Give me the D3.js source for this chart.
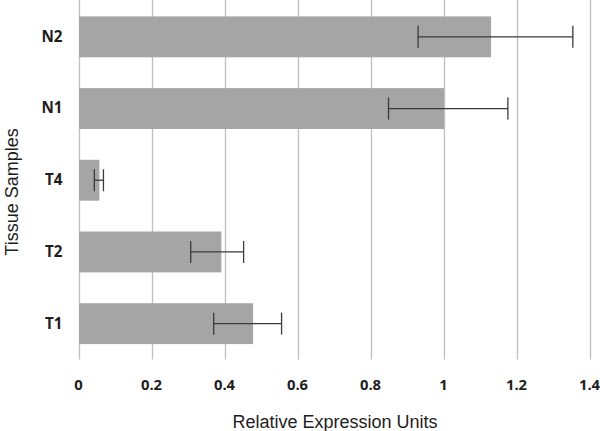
<!DOCTYPE html>
<html>
<head>
<meta charset="utf-8">
<script src="https://cdn.jsdelivr.net/npm/d3@7"></script>
<style>
html,body{margin:0;padding:0;background:#fff;}
svg{display:block;}
</style>
</head>
<body>
<script>
// Data (top to bottom)
const categories = ["N2", "N1", "T4", "T2", "T1"];
const values = [1.129, 1.0, 0.056, 0.39, 0.477];
const errLow = [0.929, 0.848, 0.042, 0.306, 0.369];
const errHigh = [1.353, 1.175, 0.067, 0.451, 0.555];
const xTicks = [0, 0.2, 0.4, 0.6, 0.8, 1, 1.2, 1.4];
const xTickLabels = ["0", "0.2", "0.4", "0.6", "0.8", "1", "1.2", "1.4"];
const xTitle = "Relative Expression Units";
const yTitle = "Tissue Samples";

const W = 600, H = 431;
const svg = d3.select("body").append("svg").attr("width", W).attr("height", H);

const x = d3.scaleLinear().domain([0, 1.4]).range([79, 590]);
const y = d3.scaleBand().domain(categories).range([1, 359.5]).paddingInner(0.43).paddingOuter(0.215);

// gridlines
svg.append("g").selectAll("line").data(xTicks).join("line")
  .attr("x1", d => Math.round(x(d)) + 0.5).attr("x2", d => Math.round(x(d)) + 0.5)
  .attr("y1", 0).attr("y2", 359.5)
  .attr("stroke", "#bfbfbf").attr("stroke-width", 1.3);

// bars
svg.append("g").selectAll("rect").data(categories).join("rect")
  .attr("x", x(0)).attr("y", d => y(d))
  .attr("width", (d, i) => x(values[i]) - x(0))
  .attr("height", y.bandwidth())
  .attr("fill", "#a5a5a5");

// error bars
const eb = svg.append("g").attr("stroke", "#3a3a3a").attr("stroke-width", 1.3).attr("fill", "none");
categories.forEach((c, i) => {
  const cy = y(c) + y.bandwidth() / 2;
  eb.append("line").attr("x1", x(errLow[i])).attr("x2", x(errHigh[i])).attr("y1", cy).attr("y2", cy);
  eb.append("line").attr("x1", x(errLow[i])).attr("x2", x(errLow[i])).attr("y1", cy - 11).attr("y2", cy + 11);
  eb.append("line").attr("x1", x(errHigh[i])).attr("x2", x(errHigh[i])).attr("y1", cy - 11).attr("y2", cy + 11);
});

// x axis tick labels
const xAxis = d3.axisBottom(x).tickValues(xTicks).tickFormat((d, i) => xTickLabels[i]).tickSize(0).tickPadding(0);
const gx = svg.append("g").attr("transform", "translate(-1,379.5)").call(xAxis);
gx.select(".domain").remove();
gx.selectAll("text")
  .attr("dy", "0.71em")
  .style("font-family", "'Open Sans', sans-serif").style("font-weight", "bold")
  .style("font-size", "14.8px").attr("fill", "#1e1e1e");

// y axis labels
const yAxis = d3.axisLeft(y).tickSize(0).tickPadding(0);
const gy = svg.append("g").attr("transform", "translate(62.5,0)").call(yAxis);
gy.select(".domain").remove();
gy.selectAll("text")
  .style("font-family", "'Open Sans', sans-serif").style("font-weight", "bold")
  .style("font-size", "15.2px").attr("fill", "#1e1e1e");

// titles
svg.append("text").attr("x", 335).attr("y", 428).attr("text-anchor", "middle")
  .style("font-family", "'Liberation Sans', Arial, sans-serif").style("font-size", "18px")
  .attr("fill", "#1e1e1e").text(xTitle);
svg.append("text").attr("transform", "translate(18,192) rotate(-90)").attr("text-anchor", "middle")
  .style("font-family", "'Liberation Sans', Arial, sans-serif").style("font-size", "18px")
  .attr("fill", "#1e1e1e").text(yTitle);
</script>
</body>
</html>
